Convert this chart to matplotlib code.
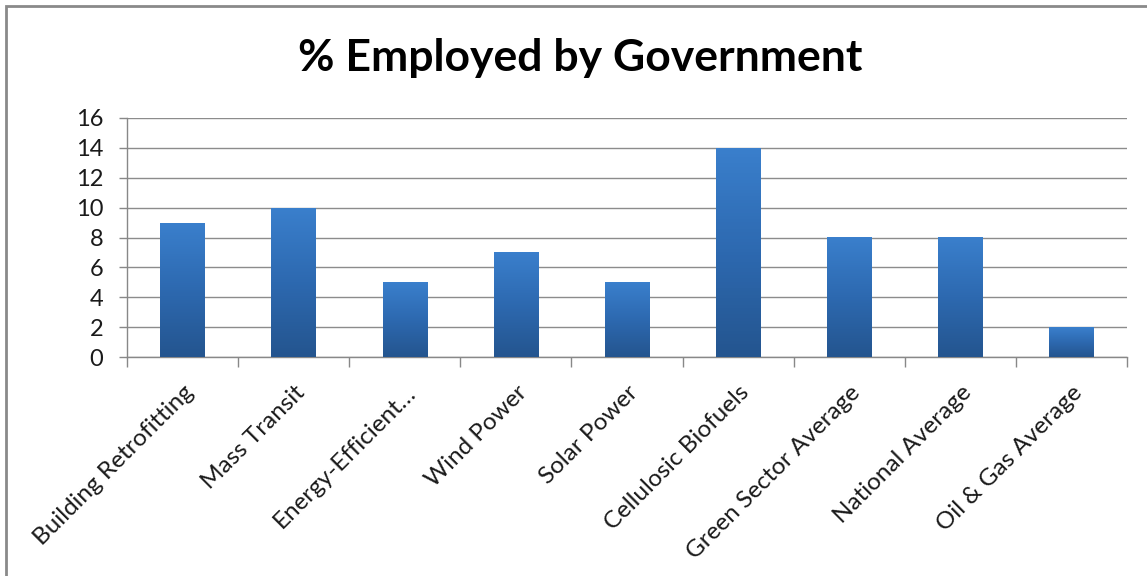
import numpy as np
import matplotlib
matplotlib.use("Agg")
import matplotlib.pyplot as plt
from matplotlib.colors import LinearSegmentedColormap
from matplotlib.patches import Rectangle

categories = [
    "Building Retrofitting",
    "Mass Transit",
    "Energy-Efficient\u2026",
    "Wind Power",
    "Solar Power",
    "Cellulosic Biofuels",
    "Green Sector Average",
    "National Average",
    "Oil & Gas Average",
]
values = [9, 10, 5, 7, 5, 14, 8, 8, 2]
y_ticks = [0, 2, 4, 6, 8, 10, 12, 14, 16]
title = "% Employed by Government"

plt.rcParams["font.family"] = ["Lato", "DejaVu Sans"]

fig = plt.figure(figsize=(11.47, 5.76), dpi=100)
ax = fig.add_axes([127 / 1147, 1 - 357 / 576, (1127 - 127) / 1147, (357 - 118) / 576])

x = np.arange(len(categories))
bar_w = 0.4
bars = ax.bar(x, values, width=bar_w, color="#2f6db5", zorder=2)

# vertical gradient inside each bar: lighter at top, darker at bottom
grad_cmap = LinearSegmentedColormap.from_list("bar", ["#24558f", "#2d69b0", "#3a7fcc"])
for b in bars:
    x0, y0 = b.get_x(), b.get_y()
    w, h = b.get_width(), b.get_height()
    img = ax.imshow(np.linspace(0, 1, 64).reshape(-1, 1), cmap=grad_cmap,
                    extent=(x0, x0 + w, y0, y0 + h), origin="lower",
                    aspect="auto", zorder=3)
    img.set_clip_path(b)

ax.set_xlim(-0.5, len(categories) - 0.5)
ax.set_ylim(0, 16)
ax.set_yticks(y_ticks)
ax.set_yticklabels([str(t) for t in y_ticks], fontsize=17, color="#1a1a1a")

ax.set_xticks(x)
ax.set_xticklabels(categories, rotation=45, ha="right", rotation_mode="anchor",
                   fontsize=17.5, color="#1a1a1a")
ax.tick_params(axis="x", length=0, pad=18)
ax.set_xticks(np.arange(-0.5, len(categories)), minor=True)
ax.tick_params(axis="x", which="minor", length=7, color="#888888", width=1)
ax.tick_params(axis="y", length=6, color="#888888", width=1, pad=11)

ax.grid(axis="y", color="#8c8c8c", linewidth=1, zorder=0)
ax.set_axisbelow(True)
for side in ("top", "right"):
    ax.spines[side].set_visible(False)
for side in ("left", "bottom"):
    ax.spines[side].set_color("#888888")
    ax.spines[side].set_linewidth(1)

fig.text(580 / 1147, 1 - 58 / 576, title, ha="center", va="center",
         fontsize=32, fontweight="bold", color="#000000")

# chart frame
fig.patches.append(Rectangle((6 / 1147, -0.1), 1.2, 1 - 6 / 576 + 0.1,
                             transform=fig.transFigure, fill=False,
                             edgecolor="#8a8a8a", linewidth=2))

fig.savefig("out.png", dpi=100, facecolor="white")
